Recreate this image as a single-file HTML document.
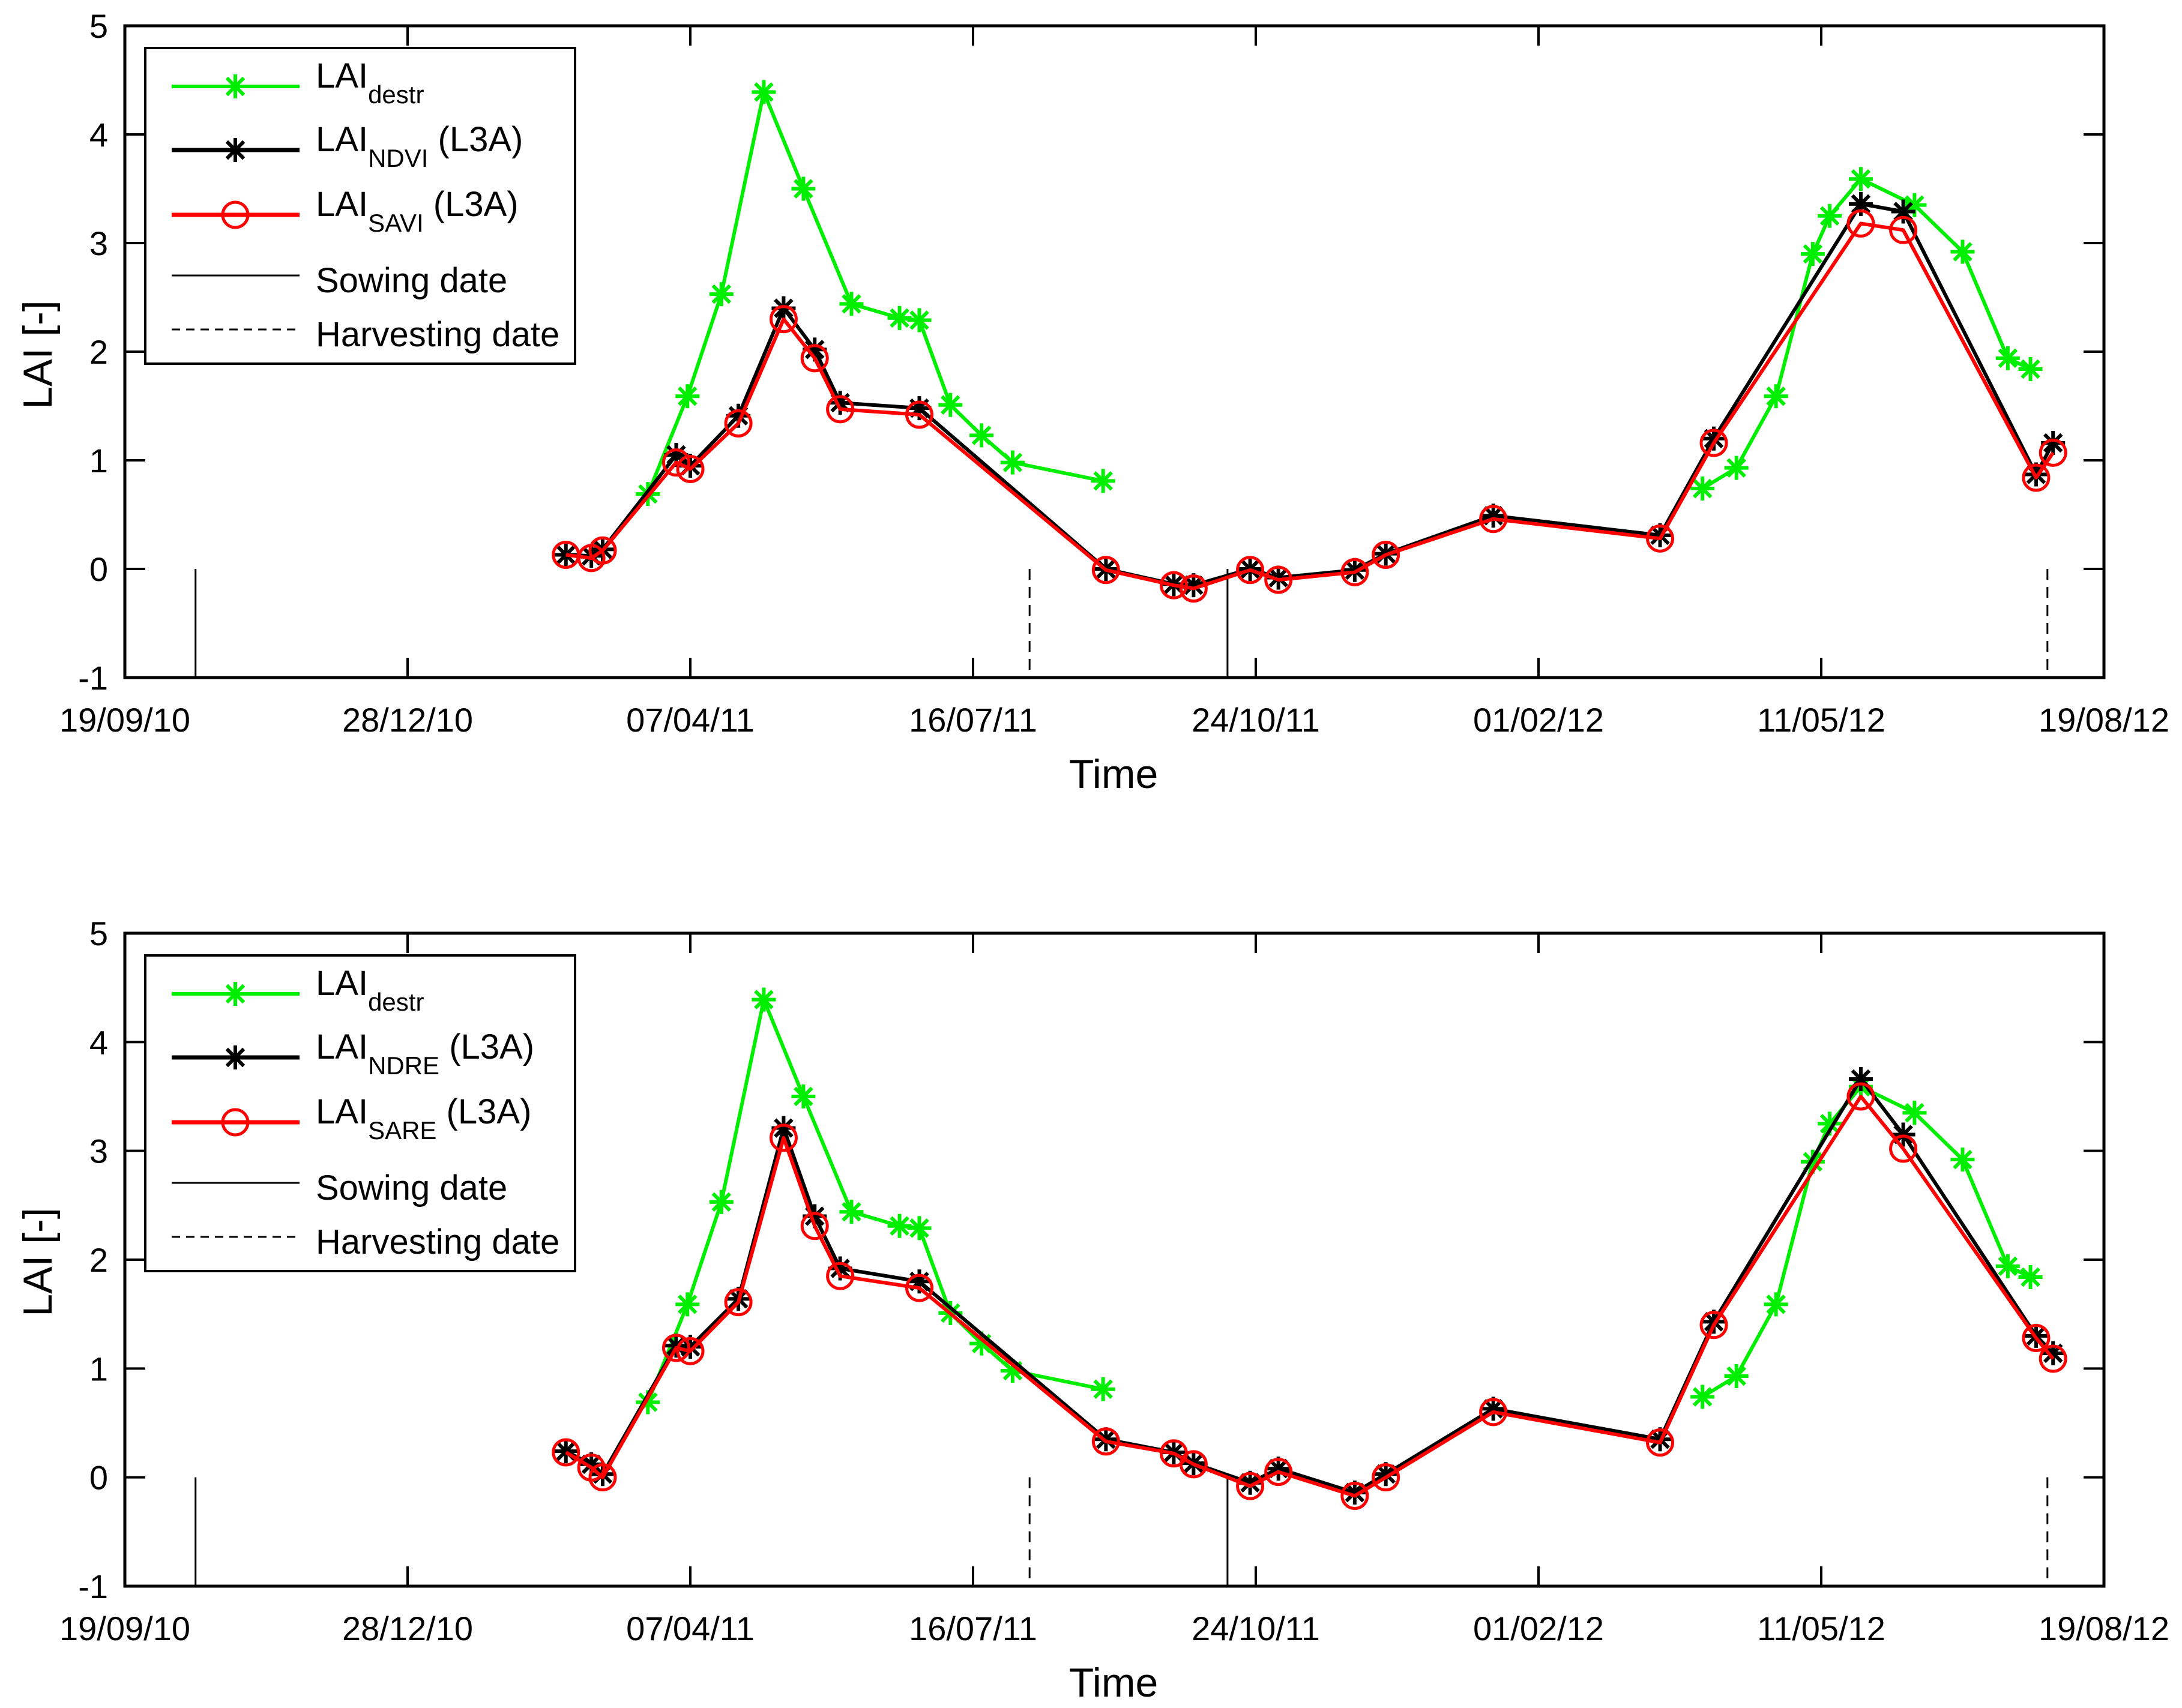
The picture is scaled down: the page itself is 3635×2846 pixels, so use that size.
<!DOCTYPE html>
<html><head><meta charset="utf-8"><style>
html,body{margin:0;padding:0;background:#fff;}
svg{display:block;font-family:"Liberation Sans",sans-serif;}
</style></head><body>
<svg id="chart" width="3635" height="2846" viewBox="0 0 3635 2846" xmlns="http://www.w3.org/2000/svg"></svg>
<script>
// ---- data (days since 19/09/10) ----
const tickDays = [0,100,200,300,400,500,600,700];
const tickLabels = ["19/09/10","28/12/10","07/04/11","16/07/11","24/10/11","01/02/12","11/05/12","19/08/12"];
const yTicks = [-1,0,1,2,3,4,5];
const sowingDays = [25,390];
const harvestDays = [320,680];
const destrDays = [185,199,211,226,240,257,274,281,292,303,314,346,558,570,584,597,603,614,633,650,666,674];
const destrVals = [0.69,1.59,2.53,4.39,3.50,2.44,2.31,2.29,1.51,1.23,0.98,0.81,0.74,0.93,1.59,2.90,3.25,3.59,3.35,2.92,1.94,1.84];
const satDays = [156,165,169,195,200,217,233,244,253,281,347,371,378,398,408,435,446,484,543,562,614,629,676,682];
const ndviVals = [0.13,0.12,0.18,1.05,0.95,1.41,2.40,2.02,1.53,1.48,0.0,-0.14,-0.15,0.0,-0.08,-0.01,0.14,0.49,0.31,1.20,3.36,3.29,0.87,1.16];
const saviVals = [0.13,0.10,0.17,0.98,0.92,1.34,2.30,1.94,1.47,1.42,-0.01,-0.15,-0.18,-0.01,-0.10,-0.03,0.13,0.46,0.28,1.16,3.18,3.12,0.84,1.07];
const ndreVals = [0.24,0.12,0.03,1.21,1.20,1.64,3.21,2.40,1.92,1.80,0.35,0.23,0.13,-0.05,0.08,-0.14,0.03,0.63,0.35,1.43,3.66,3.15,1.30,1.14];
const sareVals = [0.23,0.09,0.0,1.19,1.16,1.61,3.12,2.31,1.85,1.74,0.33,0.22,0.12,-0.08,0.05,-0.17,0.0,0.60,0.32,1.40,3.50,3.02,1.28,1.09];

const NS="http://www.w3.org/2000/svg";
const svg=document.getElementById('chart');
function mk(tag,attrs,parent){const e=document.createElementNS(NS,tag);for(const k in attrs)e.setAttribute(k,attrs[k]);(parent||svg).appendChild(e);return e;}

const X0=208,X1=3505;
function xs(d){return X0+(d-0)/(700)*(X1-X0);}

function star(g,x,y,c){
  const r=20;
  for(let i=0;i<4;i++){const a=i*Math.PI/4+Math.PI/2;
    const l=mk('line',{x1:x-r*Math.cos(a),y1:y-r*Math.sin(a),x2:x+r*Math.cos(a),y2:y+r*Math.sin(a),stroke:c,'stroke-width':6},g);
    
    
  }
}
function circ(g,x,y){
  const c=mk('circle',{cx:x,cy:y,r:21,fill:'none',stroke:'#ff0000','stroke-width':5},g);
  
  
}

function panel(top,bottom,blackVals,redVals,blackSub,redSub,idx){
  const ys=v=>bottom-(v+1)/6*(bottom-top);
  const g=mk('g',{});
  
  
  tickDays.forEach((d,i)=>{
    const x=xs(d);
    mk('line',{x1:x,y1:bottom,x2:x,y2:bottom-33,stroke:'#000','stroke-width':4},g);
    mk('line',{x1:x,y1:top,x2:x,y2:top+33,stroke:'#000','stroke-width':4},g);
    const t=mk('text',{x:x,y:bottom+90,'font-size':56,'text-anchor':'middle'},g);
    t.textContent=tickLabels[i];
    
    
  });
  yTicks.forEach(v=>{
    const y=ys(v);
    mk('line',{x1:X0,y1:y,x2:X0+34,y2:y,stroke:'#000','stroke-width':4},g);
    mk('line',{x1:X1,y1:y,x2:X1-34,y2:y,stroke:'#000','stroke-width':4},g);
    const t=mk('text',{x:X0-28,y:y+20,'font-size':56,'text-anchor':'end'},g);
    t.textContent=String(v);
    
    
  });
  sowingDays.forEach(d=>{const l=mk('line',{x1:xs(d),y1:ys(0),x2:xs(d),y2:bottom,stroke:'#000','stroke-width':3},g);
    });
  harvestDays.forEach(d=>{const l=mk('line',{x1:xs(d),y1:ys(0),x2:xs(d),y2:bottom,stroke:'#000','stroke-width':3,'stroke-dasharray':'18,12'},g);
    });
  function series(days,vals,color,name,marker){
    const sg=mk('g',{},g);
    
    
    let pts=days.map((d,i)=>xs(d)+','+ys(vals[i])).join(' ');
    mk('polyline',{points:pts,fill:'none',stroke:color,'stroke-width':6,'stroke-linejoin':'round'},sg);
    days.forEach((d,i)=>marker(sg,xs(d),ys(vals[i]),color));
  }
  series(destrDays.slice(0,12),destrVals.slice(0,12),'#00ee00','lai-destr-series-season1',star);
  series(destrDays.slice(12),destrVals.slice(12),'#00ee00','lai-destr-series-season2',star);
  series(satDays,blackVals,'#000','lai-'+blackSub.toLowerCase()+'-series',star);
  series(satDays,redVals,'#ff0000','lai-'+redSub.toLowerCase()+'-series',(s,x,y)=>circ(s,x,y));
  const b=mk('rect',{x:X0,y:top,width:X1-X0,height:bottom-top,fill:'none',stroke:'#000','stroke-width':5},g);
  
  const xt=mk('text',{x:1855,y:bottom+184,'font-size':68,'text-anchor':'middle'},g);
  xt.textContent='Time';
  const yt=mk('text',{x:0,y:0,'font-size':68,'text-anchor':'middle',transform:`translate(86,${top+548}) rotate(-90)`},g);
  yt.textContent='LAI [-]';
  const L=mk('g',{transform:`translate(0,${top-43})`},g);
  
  mk('rect',{x:242,y:80,width:716,height:526,fill:'#fff',stroke:'#000','stroke-width':4},L);
  const rows=[144,250,358,459,549];
  function entry(y,color,w,marker,main,sub,tail,name,dash,dy){
    const e=mk('g',{},L);
    
    const a={x1:286,y1:y,x2:499,y2:y,stroke:color,'stroke-width':w};
    if(dash)a['stroke-dasharray']='14,10';
    mk('line',a,e);
    if(marker)marker(e,392,y,color);
    const t=mk('text',{x:526,y:y+dy,'font-size':58},e);
    t.appendChild(document.createTextNode(main));
    if(sub){const s=mk('tspan',{'font-size':42,dy:26},t);s.textContent=sub;
      if(tail){const s2=mk('tspan',{dy:-26},t);s2.textContent=tail;}}
  }
  entry(rows[0],'#00ee00',6,star,'LAI','destr','','legend-entry-destr',false,2);
  entry(rows[1],'#000',7,star,'LAI',blackSub,' (L3A)','legend-entry-'+blackSub.toLowerCase(),false,2);
  entry(rows[2],'#ff0000',7,(s,x,y)=>circ(s,x,y),'LAI',redSub,' (L3A)','legend-entry-'+redSub.toLowerCase(),false,2);
  entry(rows[3],'#000',3,null,'Sowing date','','','legend-entry-sowing',false,28);
  entry(rows[4],'#000',3,null,'Harvesting date','','','legend-entry-harvesting',true,28);
}
panel(43,1129,ndviVals,saviVals,'NDVI','SAVI',1);
panel(1555,2643,ndreVals,sareVals,'NDRE','SARE',2);
</script>
</body></html>
